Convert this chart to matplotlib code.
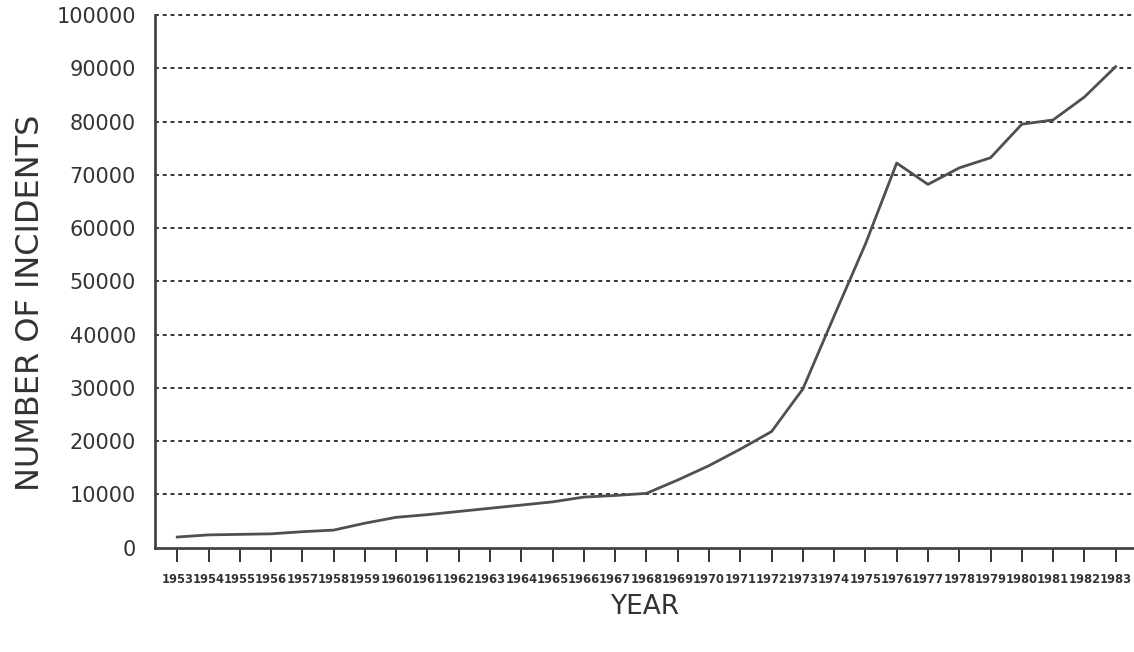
import matplotlib.pyplot as plt
import numpy as np

years = list(range(1953, 1984))
incidents = [2000, 2400, 2500, 2600, 3000, 3300, 4600, 5700, 6200, 6800,
             7400, 8000, 8600, 9500, 9800, 10200, 12700, 15400, 18500, 21800,
             29800, 43500, 57000, 72200, 68200, 71300, 73200, 79500, 80300, 84600,
             90300]
yticks = list(range(0, 100001, 10000))

fig = plt.figure(figsize=(11.34, 6.52), dpi=100)
ax = fig.add_axes([0.137, 0.16, 0.862, 0.817])

ax.plot(years, incidents, color='#505050', linewidth=2)

# dotted grid like the old printer output
for v in yticks[1:]:
    ax.axhline(v, color='#333333', linestyle=(0, (2, 2)), linewidth=1.4, zorder=0, clip_on=False)

ax.set_xlim(1952.3, 1983.55)
ax.set_ylim(0, 100000)
ax.set_yticks(yticks)
ax.set_yticklabels([str(v) for v in yticks], fontsize=15, color='#333333')
ax.set_xticks(years)
ax.set_xticklabels([str(y) for y in years], fontsize=8.3, fontweight='bold', color='#444444')
ax.tick_params(axis='y', length=0, pad=14)
ax.tick_params(axis='x', length=10, width=1.4, direction='out', pad=8, colors='#333333')

for s in ['top', 'right']:
    ax.spines[s].set_visible(False)
for s in ['left', 'bottom']:
    ax.spines[s].set_color('#444444')
    ax.spines[s].set_linewidth(2)

ax.set_ylabel('NUMBER OF INCIDENTS', fontsize=23, color='#333333')
ax.yaxis.set_label_coords(-0.112, 0.46)
ax.set_xlabel('YEAR', fontsize=19, color='#333333', labelpad=6)

fig.savefig('out.png', dpi=100)
